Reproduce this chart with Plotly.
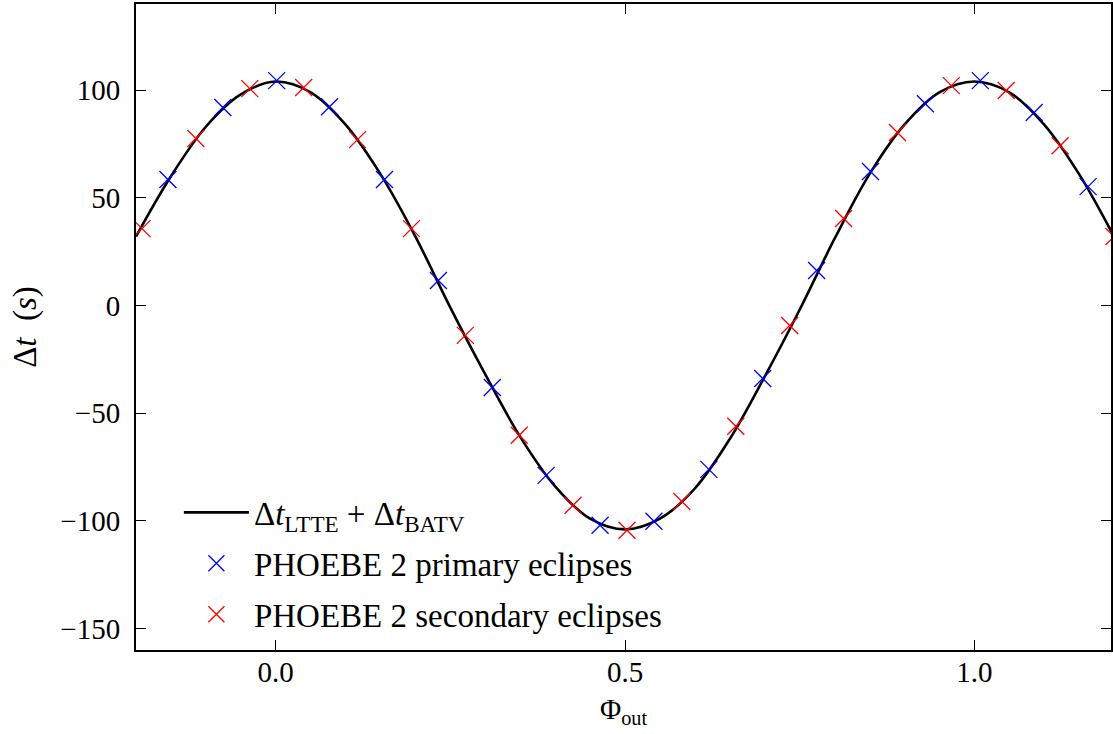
import plotly.graph_objects as go

# Model curve: combined light-travel-time and dynamical (BATV) delays
model_phase = [-0.20, -0.15, -0.10, -0.05, 0.00, 0.05, 0.10, 0.15, 0.20, 0.25,
               0.30, 0.35, 0.40, 0.45, 0.50, 0.55, 0.60, 0.65, 0.70, 0.75,
               0.80, 0.85, 0.90, 0.95, 1.00, 1.05, 1.10, 1.15, 1.20]
model_dt = [32, 60, 83, 98, 104, 99, 84, 61, 32, -1,
            -32, -61, -84, -99, -104, -99, -85, -62, -33, -2,
            31, 61, 84, 99, 104, 99, 84, 61, 32]

# Eclipse timing residuals from PHOEBE 2
prim_phase = [-0.1543, -0.0757, 0.0014, 0.0771, 0.1557, 0.2329, 0.3100, 0.3871,
              0.4643, 0.5414, 0.6200, 0.6971, 0.7743, 0.8514, 0.9300, 1.0086,
              1.0857, 1.1629]
prim_dt = [58.5, 91.9, 104.4, 92.3, 58.5, 11.6, -38.1, -78.9,
           -102.1, -100.2, -76.1, -33.9, 16.2, 62.2, 93.7, 104.4,
           89.6, 55.2]

sec_phase = [-0.1914, -0.1143, -0.0371, 0.0400, 0.1171, 0.1943, 0.2714, 0.3486,
             0.4257, 0.5029, 0.5814, 0.6586, 0.7357, 0.8129, 0.8900, 0.9671,
             1.0457, 1.1229, 1.2000]
sec_dt = [35.7, 77.5, 100.7, 101.2, 77.0, 35.7, -13.9, -60.3,
          -92.8, -104.4, -91.0, -56.1, -9.3, 40.4, 80.3, 102.1,
          99.8, 74.2, 32.0]

x_ticks = [0.0, 0.5, 1.0]
y_ticks = [-150, -100, -50, 0, 50, 100]

FONT = "Liberation Serif"
NB = "\u00a0"

fig = go.Figure()
fig.add_trace(go.Scatter(
    x=model_phase, y=model_dt, mode="lines",
    line=dict(color="black", width=2.6, shape="spline", smoothing=1.0),
    name="Δ<i>t</i><sub>LTTE</sub> + Δ<i>t</i><sub>BATV</sub>",
    legendgroup="model",
))
fig.add_trace(go.Scatter(
    x=prim_phase, y=prim_dt, mode="markers",
    marker=dict(symbol="x-thin", size=17, line=dict(color="#0000ff", width=1.3)),
    name="PHOEBE 2 primary eclipses",
    legendgroup="primary",
))
fig.add_trace(go.Scatter(
    x=sec_phase, y=sec_dt, mode="markers",
    marker=dict(symbol="x-thin", size=17, line=dict(color="#ff0000", width=1.3)),
    name="PHOEBE 2 secondary eclipses",
    legendgroup="secondary",
))

axis_common = dict(
    showgrid=False, zeroline=False, showline=True, linecolor="black",
    linewidth=2, mirror="ticks", ticks="inside", ticklen=10, tickwidth=1.2,
    tickcolor="black", tickfont=dict(family=FONT, size=29, color="black"),
)

fig.update_xaxes(
    range=[-0.2, 1.1957], tickvals=x_ticks, tickformat=".1f",
    ticklabelstandoff=-5,
    title=dict(text="Φ<sub>out</sub>", font=dict(family=FONT, size=29, color="black"),
               standoff=12),
    **axis_common,
)
fig.update_yaxes(
    range=[-160, 140], tickvals=y_ticks, tickformat="d",
    ticklabelstandoff=8,
    title=dict(text=f"Δ<i>t</i>{NB}{NB}(<i>s</i>)",
               font=dict(family=FONT, size=33, color="black"),
               standoff=14),
    **axis_common,
)

fig.update_layout(
    width=1113, height=734,
    margin=dict(l=136, r=0, t=4, b=84),
    paper_bgcolor="white", plot_bgcolor="white",
    showlegend=True,
    legend=dict(
        x=0.044, y=0.134, xanchor="left", yanchor="middle",
        bgcolor="rgba(0,0,0,0)", borderwidth=0,
        font=dict(family=FONT, size=33, color="black"),
        itemwidth=65, tracegroupgap=5,
    ),
)

fig.write_html("out.html")
